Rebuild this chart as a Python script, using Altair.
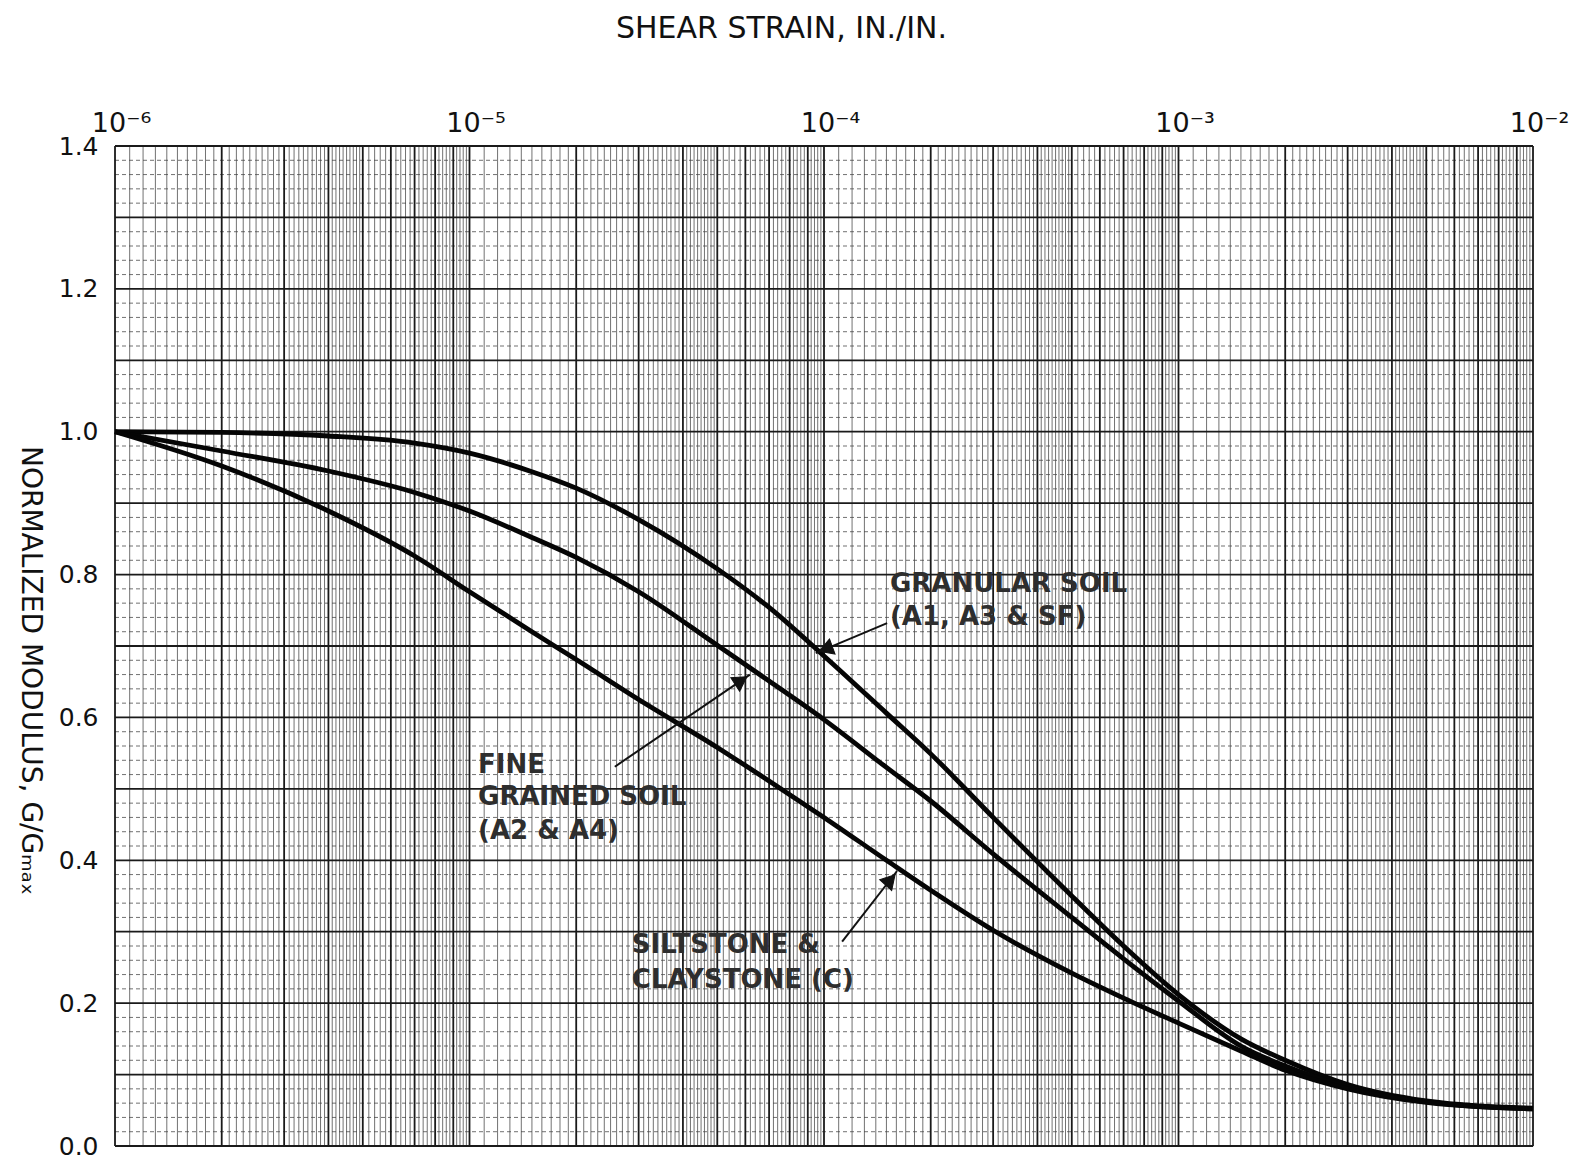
import altair as alt
import pandas as pd
import math

# ---- data ----
strain = [1e-6, 2e-6, 4e-6, 7e-6, 1e-5, 1.5e-5, 2e-5, 3e-5, 5e-5, 7e-5,
          1e-4, 1.5e-4, 2e-4, 3e-4, 5e-4, 7e-4, 1e-3, 1.5e-3, 2e-3, 3e-3,
          5e-3, 7e-3, 1e-2]
granular = [1.0, 0.999, 0.994, 0.984, 0.970, 0.944, 0.921, 0.877, 0.808, 0.754,
            0.686, 0.606, 0.549, 0.460, 0.350, 0.280, 0.212, 0.150, 0.120, 0.086,
            0.063, 0.056, 0.053]
fine = [1.0, 0.973, 0.945, 0.915, 0.889, 0.852, 0.824, 0.776, 0.701, 0.651,
        0.597, 0.530, 0.483, 0.409, 0.320, 0.262, 0.203, 0.140, 0.112, 0.083,
        0.062, 0.055, 0.052]
silt = [1.0, 0.952, 0.889, 0.826, 0.776, 0.720, 0.681, 0.625, 0.558, 0.511,
        0.460, 0.400, 0.358, 0.302, 0.242, 0.207, 0.172, 0.133, 0.106, 0.080,
        0.061, 0.055, 0.052]

x_ticks = [1e-6, 1e-5, 1e-4, 1e-3, 1e-2]
x_tick_labels = ["10\u207b\u2076", "10\u207b\u2075", "10\u207b\u2074", "10\u207b\u00b3", "10\u207b\u00b2"]
y_ticks = [0.0, 0.2, 0.4, 0.6, 0.8, 1.0, 1.2, 1.4]

# annotations (text lines, anchor strain, anchor value)
ann_text = ["GRANULAR SOIL", "(A1, A3 & SF)",
            "FINE", "GRAINED SOIL", "(A2 & A4)",
            "SILTSTONE &", "CLAYSTONE (C)"]
ann_x = [1.535e-4, 1.535e-4, 1.057e-5, 1.057e-5, 1.057e-5, 2.87e-5, 2.87e-5]
ann_y = [0.787, 0.740, 0.533, 0.488, 0.441, 0.281, 0.232]

arrow_x = [1.507e-4, 2.57e-5, 1.125e-4]
arrow_y = [0.732, 0.531, 0.286]
arrow_x2 = [9.48e-5, 6.18e-5, 1.607e-4]
arrow_y2 = [0.690, 0.660, 0.385]
arrow_angle = [250, 57, 42]
arrow_back = [0.17, 0.08, 0.15]

W, H = 1418, 1000
XMIN, XMAX = 1e-6, 1e-2

# ---- tables ----
curves = pd.DataFrame(
    [{"strain": s, "g": v, "soil": "Granular"} for s, v in zip(strain, granular)]
    + [{"strain": s, "g": v, "soil": "Fine"} for s, v in zip(strain, fine)]
    + [{"strain": s, "g": v, "soil": "Silt"} for s, v in zip(strain, silt)]
)

minor_v, major_v = [], []
for k in range(-6, -2):
    base = 10.0 ** k
    mults = [1 + 0.1 * i for i in range(10)] + [2 + 0.1 * i for i in range(30)] + [5 + 0.2 * i for i in range(25)]
    for m in mults:
        v = round(m, 3)
        if abs(v - round(v)) < 1e-9:
            major_v.append(v * base)
        else:
            minor_v.append(v * base)
major_v.append(XMAX)
vgrid_minor = pd.DataFrame({"strain": minor_v})
vgrid_major = pd.DataFrame({"strain": major_v})

hminor = [round(i * 0.02, 3) for i in range(71) if i % 5 != 0]
hmajor = [round(i * 0.1, 3) for i in range(15)]
hgrid_minor = pd.DataFrame({"g": hminor})
hgrid_major = pd.DataFrame({"g": hmajor})

ann = pd.DataFrame({"t": ann_text, "strain": ann_x, "g": ann_y})
arrows = pd.DataFrame({"strain": arrow_x, "g": arrow_y, "x2": arrow_x2, "y2": arrow_y2})
heads = pd.DataFrame({
    "strain": [10 ** (math.log10(b) + f * (math.log10(a) - math.log10(b))) for a, b, f in zip(arrow_x, arrow_x2, arrow_back)],
    "g": [b + f * (a - b) for a, b, f in zip(arrow_y, arrow_y2, arrow_back)],
    "ang": arrow_angle,
})

FONT = "DejaVu Sans"

xscale = alt.Scale(type="log", domain=[XMIN, XMAX], nice=False)
yscale = alt.Scale(domain=[0, 1.4], nice=False, zero=False)

label_expr = "[" + ",".join("'%s'" % s for s in x_tick_labels) + "][round(log(datum.value)/LN10)+6]"

x_axis = alt.Axis(
    orient="top", values=x_ticks, labelExpr=label_expr, title="SHEAR STRAIN, IN./IN.",
    grid=False, ticks=False, domain=False, labelFlush=False, labelOffset=6,
    labelFontSize=27, labelPadding=9, labelFont=FONT, labelColor="#111",
    titleFontSize=30, titleFont=FONT, titleFontWeight="normal", titleColor="#111",
    titleX=666, titleY=-118, titleBaseline="middle",
)
y_axis = alt.Axis(
    values=y_ticks, format=".1f", title="NORMALIZED MODULUS, G/G\u2098\u2090\u2093",
    grid=False, ticks=False, domain=False,
    labelFontSize=25, labelPadding=17, labelFont=FONT, labelColor="#111",
    titleFontSize=28, titleFont=FONT, titleFontWeight="normal", titleColor="#111",
    titleAngle=90, titleX=-86, titleY=H / 2 + 24, titleAlign="center", titleBaseline="middle",
)


def X(field="strain:Q"):
    return alt.X(field, scale=xscale, axis=x_axis)


def Y(field="g:Q"):
    return alt.Y(field, scale=yscale, axis=y_axis)


vminor = alt.Chart(vgrid_minor).mark_rule(color="#3a3a3a", strokeWidth=0.9, opacity=0.8).encode(x=X())
vmajor = alt.Chart(vgrid_major).mark_rule(color="#1a1a1a", strokeWidth=1.8).encode(x=X())
hminor_l = alt.Chart(hgrid_minor).mark_rule(color="#444", strokeWidth=0.9, strokeDash=[4, 3], opacity=0.85).encode(y=Y())
hmajor_l = alt.Chart(hgrid_major).mark_rule(color="#1a1a1a", strokeWidth=1.8).encode(y=Y())

lines = alt.Chart(curves).mark_line(color="#050505", strokeWidth=4.8, interpolate="monotone").encode(
    x=X(), y=Y(), detail="soil:N",
)

texts = alt.Chart(ann).mark_text(align="left", baseline="middle", fontSize=26, font=FONT,
                                 fontWeight="bold", color="#2e2e2e").encode(
    x=X(), y=Y(), text="t:N",
)

arrow_lines = alt.Chart(arrows).mark_rule(color="#111", strokeWidth=2).encode(
    x=X(), x2="x2:Q", y=Y(), y2="y2:Q",
)
arrow_heads = alt.Chart(heads).mark_point(shape="triangle", filled=True, size=260, fill="#111",
                                          stroke="#111", strokeWidth=1, opacity=1).encode(
    x=X(), y=Y(), angle=alt.Angle("ang:Q", scale=None),
)

chart = alt.layer(
    vminor, hminor_l, vmajor, hmajor_l, lines, arrow_lines, arrow_heads, texts
).properties(
    width=W, height=H,
    autosize=alt.AutoSizeParams(type="none"),
    padding={"left": 115, "top": 146, "right": 56, "bottom": 25},
).configure_view(stroke=None).configure(background="white")

chart.save("out.html", embed_options={"renderer": "svg", "actions": False})
